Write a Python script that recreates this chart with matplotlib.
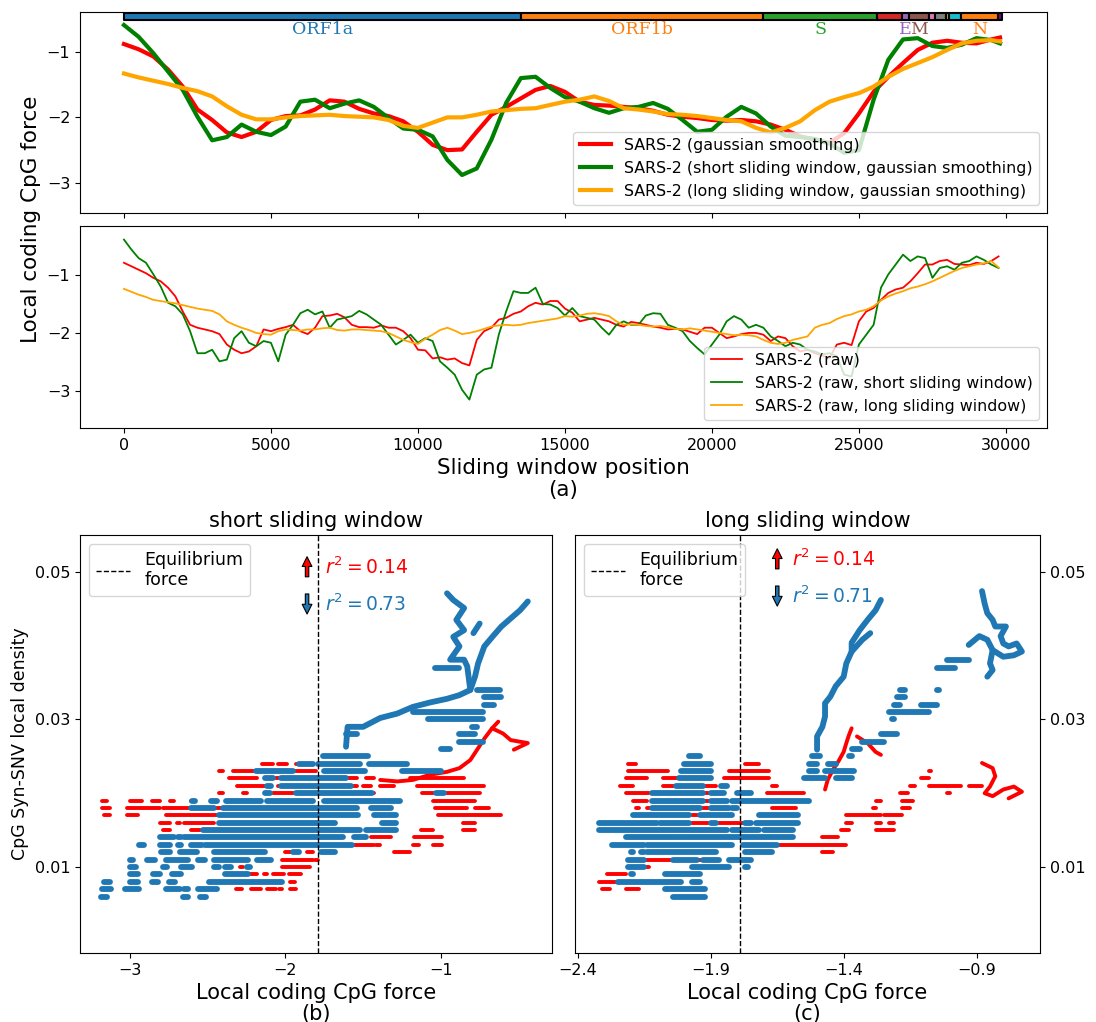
import numpy as np
import matplotlib.pyplot as plt

plt.rcParams['xtick.labelsize'] = 11.5
plt.rcParams['ytick.labelsize'] = 11.5
plt.rcParams['lines.solid_joinstyle'] = 'round'

# sliding window positions along the genome
smooth_pos = list(range(0, 30000, 500)) + [29800]
raw_pos = list(range(0, 30000, 250))

smooth_full = [-0.88, -0.96, -1.07, -1.27, -1.53, -1.88, -2.04, -2.23, -2.30, -2.22,
               -2.04, -1.98, -1.97, -1.88, -1.74, -1.76, -1.87, -1.94, -1.98, -2.06,
               -2.22, -2.42, -2.50, -2.49, -2.22, -1.96, -1.84, -1.71, -1.58, -1.52,
               -1.61, -1.76, -1.81, -1.82, -1.84, -1.86, -1.90, -1.96, -1.99, -2.01,
               -2.04, -2.05, -2.04, -2.06, -2.11, -2.19, -2.29, -2.34, -2.39, -2.24,
               -1.94, -1.61, -1.38, -1.17, -0.97, -0.86, -0.83, -0.86, -0.87, -0.81, -0.78]
smooth_short = [-0.59, -0.77, -1.02, -1.30, -1.58, -1.99, -2.35, -2.30, -2.11, -2.22,
                -2.27, -2.14, -1.76, -1.73, -1.86, -1.79, -1.74, -1.84, -2.01, -2.17,
                -2.19, -2.29, -2.65, -2.88, -2.78, -2.34, -1.78, -1.40, -1.38, -1.55,
                -1.69, -1.76, -1.86, -1.93, -1.86, -1.84, -1.78, -1.87, -2.04, -2.22,
                -2.19, -1.99, -1.84, -1.94, -2.14, -2.28, -2.30, -2.33, -2.40, -2.54,
                -2.50, -1.73, -1.12, -0.81, -0.79, -0.91, -0.94, -0.89, -0.79, -0.82, -0.87]
smooth_long = [-1.33, -1.39, -1.44, -1.49, -1.55, -1.60, -1.68, -1.83, -1.96, -2.03,
               -2.03, -2.00, -1.98, -1.97, -1.96, -1.98, -1.99, -2.00, -2.04, -2.13,
               -2.16, -2.08, -2.00, -2.00, -1.96, -1.91, -1.89, -1.87, -1.86, -1.81,
               -1.76, -1.73, -1.68, -1.75, -1.86, -1.88, -1.91, -1.95, -1.96, -1.98,
               -2.01, -2.04, -2.06, -2.16, -2.23, -2.16, -2.06, -1.89, -1.76, -1.69,
               -1.63, -1.53, -1.38, -1.26, -1.17, -1.08, -0.97, -0.87, -0.83, -0.82, -0.84]

raw_full = [-0.79, -0.85, -0.91, -0.97, -1.05, -1.11, -1.22, -1.37, -1.63, -1.86,
            -1.91, -1.94, -1.97, -2.02, -2.20, -2.29, -2.35, -2.32, -2.23, -1.94,
            -1.97, -1.93, -1.90, -1.86, -1.97, -2.02, -1.91, -1.71, -1.70, -1.67,
            -1.73, -1.86, -1.90, -1.90, -1.91, -1.87, -1.91, -1.91, -1.97, -2.09,
            -2.29, -2.30, -2.44, -2.42, -2.46, -2.44, -2.52, -2.56, -2.12, -1.97,
            -1.91, -1.77, -1.74, -1.67, -1.63, -1.54, -1.48, -1.51, -1.45, -1.45,
            -1.58, -1.65, -1.80, -1.77, -1.74, -1.77, -1.80, -1.86, -1.89, -1.81,
            -1.83, -1.86, -1.89, -1.91, -1.94, -1.93, -1.94, -1.98, -2.02, -1.91,
            -1.91, -2.00, -2.09, -2.06, -2.02, -2.00, -2.00, -2.03, -2.14, -2.06,
            -2.09, -2.23, -2.32, -2.29, -2.35, -2.39, -2.43, -2.20, -2.17, -2.21,
            -1.80, -1.63, -1.57, -1.43, -1.31, -1.25, -1.22, -1.11, -0.97, -0.82,
            -0.82, -0.76, -0.74, -0.81, -0.82, -0.83, -0.79, -0.81, -0.76, -0.68]
raw_short = [-0.39, -0.56, -0.71, -0.79, -0.99, -1.20, -1.48, -1.54, -1.68, -1.97,
             -2.35, -2.35, -2.29, -2.49, -2.46, -2.09, -1.97, -2.17, -2.23, -2.14,
             -2.17, -2.49, -2.03, -1.86, -1.66, -1.60, -1.68, -1.63, -1.91, -1.77,
             -1.74, -1.71, -1.62, -1.68, -1.77, -1.86, -2.03, -2.20, -2.12, -2.03,
             -2.17, -2.09, -2.14, -2.49, -2.60, -2.72, -2.98, -3.15, -2.72, -2.63,
             -2.60, -2.03, -1.63, -1.28, -1.31, -1.31, -1.22, -1.50, -1.51, -1.57,
             -1.70, -1.57, -1.71, -1.74, -1.77, -1.91, -2.03, -1.86, -1.80, -1.86,
             -1.86, -1.70, -1.66, -1.67, -1.86, -1.91, -1.97, -2.14, -2.26, -2.37,
             -2.20, -2.03, -1.80, -1.71, -1.77, -1.91, -1.86, -1.91, -2.06, -2.14,
             -2.23, -2.17, -2.20, -2.29, -2.32, -2.37, -2.35, -2.40, -2.72, -2.75,
             -2.20, -2.03, -1.86, -1.22, -0.99, -0.82, -0.65, -0.76, -0.68, -0.71,
             -1.05, -0.88, -0.85, -0.91, -0.79, -0.76, -0.68, -0.74, -0.82, -0.88]
raw_long = [-1.24, -1.29, -1.34, -1.38, -1.43, -1.45, -1.47, -1.49, -1.52, -1.55,
            -1.58, -1.60, -1.62, -1.68, -1.80, -1.86, -1.91, -1.95, -2.00, -2.02,
            -2.03, -1.97, -1.94, -1.95, -1.96, -1.94, -1.94, -1.92, -1.91, -1.95,
            -1.96, -1.94, -1.94, -1.95, -1.96, -1.97, -2.00, -2.06, -2.12, -2.16,
            -2.19, -2.10, -2.03, -1.95, -1.91, -1.96, -2.02, -2.00, -1.97, -1.93,
            -1.89, -1.87, -1.86, -1.87, -1.86, -1.83, -1.81, -1.79, -1.77, -1.75,
            -1.71, -1.72, -1.70, -1.67, -1.66, -1.68, -1.71, -1.80, -1.86, -1.85,
            -1.86, -1.88, -1.89, -1.88, -1.90, -1.93, -1.94, -1.92, -1.94, -1.96,
            -1.98, -2.00, -2.02, -2.04, -2.03, -2.04, -2.06, -2.12, -2.17, -2.19,
            -2.17, -2.12, -2.09, -2.06, -1.91, -1.86, -1.83, -1.76, -1.71, -1.68,
            -1.63, -1.60, -1.54, -1.44, -1.37, -1.32, -1.28, -1.23, -1.20, -1.16,
            -1.11, -1.05, -0.99, -0.93, -0.88, -0.85, -0.82, -0.80, -0.76, -0.87]

# genome annotation
gene_names = ["ORF1a", "ORF1b", "S", "ORF3a", "E", "M", "ORF6", "ORF7a", "ORF7b", "ORF8", "N", "ORF10"]
gene_start = [0, 13490, 21730, 25630, 26480, 26700, 27390, 27590, 27970, 28080, 28460, 29735]
gene_end = [13490, 21730, 25630, 26480, 26700, 27390, 27590, 27970, 28080, 28460, 29735, 29870]
gene_colors = ["#1f77b4", "#ff7f0e", "#2ca02c", "#d62728", "#9467bd", "#8c564b",
               "#e377c2", "#7f7f7f", "#bcbd22", "#17becf", "#ff7f0e", "purple"]
labelled_genes = ["ORF1a", "ORF1b", "S", "E", "M", "N"]

equilibrium_force = -1.79

# scatter rows: (density, force from, force to)
short_blue_rows = [
    (0.006, -3.19, -3.15), (0.006, -2.66, -2.63), (0.006, -2.55, -2.51),
    (0.007, -3.18, -3.12), (0.007, -3.03, -2.94), (0.007, -2.77, -2.68), (0.007, -2.65, -2.63), (0.007, -2.56, -2.44),
    (0.008, -3.17, -3.13), (0.008, -3.00, -2.95), (0.008, -2.86, -2.82), (0.008, -2.75, -2.71), (0.008, -2.49, -2.02),
    (0.009, -3.00, -2.95), (0.009, -2.85, -2.81), (0.009, -2.73, -2.67), (0.009, -2.39, -2.24),
    (0.010, -3.00, -2.96), (0.010, -2.79, -2.76), (0.010, -2.67, -2.60), (0.010, -2.46, -2.43), (0.010, -2.39, -2.35), (0.010, -2.25, -2.23),
    (0.011, -3.00, -2.98), (0.011, -2.89, -2.84), (0.011, -2.77, -2.63), (0.011, -2.56, -2.52), (0.011, -2.46, -2.24), (0.011, -2.18, -2.09),
    (0.012, -2.94, -2.94), (0.012, -2.80, -2.74), (0.012, -2.68, -2.57), (0.012, -2.46, -2.13), (0.012, -1.95, -1.91), (0.012, -1.77, -1.68),
    (0.013, -2.94, -2.91), (0.013, -2.81, -2.74), (0.013, -2.69, -2.67), (0.013, -2.61, -2.54), (0.013, -2.52, -1.57),
    (0.014, -2.81, -2.72), (0.014, -2.69, -2.67), (0.014, -2.65, -1.63), (0.014, -1.56, -1.48),
    (0.015, -2.53, -1.52), (0.015, -1.48, -1.29),
    (0.016, -2.43, -1.68), (0.016, -1.38, -1.29),
    (0.017, -2.43, -1.53), (0.017, -1.43, -1.29),
    (0.018, -2.61, -2.46), (0.018, -2.40, -1.54), (0.018, -1.45, -1.32),
    (0.019, -2.60, -2.58), (0.019, -2.48, -2.44), (0.019, -2.38, -2.16), (0.019, -2.12, -1.82), (0.019, -1.75, -1.26),
    (0.020, -2.13, -2.10), (0.020, -1.93, -1.44), (0.020, -1.03, -0.98),
    (0.021, -2.12, -2.09), (0.021, -2.03, -1.58),
    (0.022, -2.13, -2.08), (0.022, -2.03, -1.61),
    (0.023, -2.19, -1.95), (0.023, -1.75, -1.49), (0.023, -1.25, -1.00),
    (0.024, -1.98, -1.98), (0.024, -1.91, -1.82), (0.024, -1.79, -1.52), (0.024, -1.46, -1.22), (0.024, -1.03, -1.03),
    (0.025, -1.76, -1.47),
    (0.026, -1.61, -1.61), (0.026, -1.00, -0.94),
    (0.027, -1.61, -1.61), (0.027, -0.88, -0.73),
    (0.028, -1.61, -1.54), (0.028, -0.88, -0.78),
    (0.029, -0.80, -0.77),
    (0.030, -1.08, -0.73),
    (0.031, -1.18, -0.73),
    (0.032, -0.72, -0.66),
    (0.033, -0.72, -0.61),
    (0.034, -0.77, -0.62),
    (0.037, -1.04, -0.88),
]
short_red_rows = [
    (0.007, -2.32, -2.28), (0.007, -2.22, -2.16), (0.007, -2.12, -2.06), (0.007, -2.04, -2.02), (0.007, -1.97, -1.93),
    (0.008, -1.97, -1.94),
    (0.009, -2.38, -2.18), (0.009, -2.14, -2.12), (0.009, -2.08, -2.01), (0.009, -1.98, -1.90), (0.009, -1.84, -1.84),
    (0.010, -2.29, -2.27), (0.010, -2.02, -1.84),
    (0.011, -2.02, -1.82), (0.011, -1.81, -1.79),
    (0.012, -2.00, -1.95), (0.012, -1.86, -1.82), (0.012, -1.63, -1.63), (0.012, -1.30, -1.20),
    (0.013, -2.94, -2.94), (0.013, -1.57, -1.43), (0.013, -1.42, -1.39), (0.013, -1.30, -1.30), (0.013, -1.18, -1.14), (0.013, -1.05, -0.99),
    (0.014, -2.92, -2.92), (0.014, -2.78, -2.78), (0.014, -1.45, -1.32), (0.014, -1.17, -0.99),
    (0.015, -2.79, -2.74), (0.015, -2.61, -2.55), (0.015, -1.13, -1.05), (0.015, -0.86, -0.78),
    (0.016, -2.81, -2.74), (0.016, -2.70, -2.68), (0.016, -2.65, -2.46), (0.016, -1.03, -1.03), (0.016, -0.86, -0.78),
    (0.017, -3.17, -3.13), (0.017, -3.02, -2.95), (0.017, -2.77, -2.44), (0.017, -1.02, -0.61),
    (0.018, -3.18, -3.13), (0.018, -3.02, -2.81), (0.018, -2.79, -2.61), (0.018, -2.46, -2.40), (0.018, -1.84, -1.84), (0.018, -1.04, -0.83), (0.018, -0.78, -0.69),
    (0.019, -3.18, -3.15), (0.019, -3.00, -2.92), (0.019, -2.86, -2.81), (0.019, -2.74, -2.72), (0.019, -2.61, -2.59), (0.019, -1.05, -0.78),
    (0.020, -2.43, -2.40), (0.020, -2.27, -2.25), (0.020, -2.08, -1.54), (0.020, -1.47, -1.43), (0.020, -1.12, -0.75),
    (0.021, -2.31, -2.12), (0.021, -2.05, -1.54), (0.021, -1.50, -1.45), (0.021, -1.39, -1.30), (0.021, -1.15, -0.72),
    (0.022, -2.36, -2.18), (0.022, -2.06, -1.54), (0.022, -1.48, -1.43), (0.022, -1.20, -0.85),
    (0.023, -2.43, -2.40), (0.023, -2.34, -2.20), (0.023, -1.95, -1.80), (0.023, -1.75, -1.73), (0.023, -1.50, -1.50),
    (0.024, -2.24, -2.24), (0.024, -2.15, -2.08), (0.024, -2.05, -1.99), (0.024, -1.93, -1.82), (0.024, -1.71, -1.58),
]
short_blue_trails = [
    ([-1.61, -1.60, -1.50, -1.39, -1.28, -1.18, -1.07, -0.96, -0.88, -0.81, -0.78, -0.76, -0.72, -0.66, -0.61, -0.55, -0.49, -0.44],
     [0.0263, 0.0290, 0.0290, 0.0302, 0.0308, 0.0317, 0.0323, 0.0328, 0.0333, 0.0340, 0.0358, 0.0376, 0.0399, 0.0414, 0.0426, 0.0437, 0.0448, 0.0460]),
    ([-0.81, -0.83, -0.85, -0.94, -0.88, -0.92, -0.85, -0.90, -0.85, -0.92, -0.96],
     [0.0340, 0.0372, 0.0381, 0.0381, 0.0399, 0.0412, 0.0421, 0.0435, 0.0451, 0.0462, 0.0471]),
    ([-0.79, -0.75], [0.0417, 0.0430]),
]
short_red_trails = [
    ([-1.39, -1.28, -1.18, -1.07, -0.96, -0.88, -0.81, -0.76, -0.72, -0.67, -0.63],
     [0.0218, 0.0216, 0.0218, 0.0225, 0.0229, 0.0234, 0.0245, 0.0261, 0.0274, 0.0288, 0.0297]),
    ([-0.67, -0.60, -0.55, -0.44, -0.53], [0.0288, 0.0281, 0.0272, 0.0268, 0.0259]),
]

long_blue_rows = [
    (0.006, -2.04, -1.92),
    (0.007, -2.07, -1.92),
    (0.008, -2.25, -2.01), (0.008, -1.97, -1.94),
    (0.009, -2.20, -2.19), (0.009, -2.07, -1.94),
    (0.010, -2.21, -2.15), (0.010, -1.97, -1.83), (0.010, -1.77, -1.76),
    (0.011, -2.21, -2.15), (0.011, -2.04, -1.95), (0.011, -1.93, -1.87), (0.011, -1.83, -1.75),
    (0.012, -2.20, -2.19), (0.012, -2.16, -2.15), (0.012, -2.14, -1.88), (0.012, -1.77, -1.67),
    (0.013, -2.27, -2.15), (0.013, -2.14, -1.82), (0.013, -1.78, -1.65),
    (0.014, -2.24, -2.24), (0.014, -2.22, -1.59),
    (0.015, -2.32, -2.02), (0.015, -2.01, -1.84), (0.015, -1.82, -1.72), (0.015, -1.70, -1.59),
    (0.016, -2.32, -2.10), (0.016, -2.09, -1.98), (0.016, -1.90, -1.88), (0.016, -1.77, -1.75), (0.016, -1.73, -1.57),
    (0.017, -2.19, -1.98), (0.017, -1.94, -1.82), (0.017, -1.72, -1.57),
    (0.018, -2.12, -1.94), (0.018, -1.90, -1.83), (0.018, -1.82, -1.80),
    (0.019, -2.12, -1.93), (0.019, -1.90, -1.84), (0.019, -1.82, -1.53),
    (0.020, -2.12, -1.93), (0.020, -1.90, -1.85), (0.020, -1.80, -1.75),
    (0.021, -2.03, -1.93), (0.021, -1.86, -1.84), (0.021, -1.77, -1.77),
    (0.022, -2.02, -1.90), (0.022, -1.55, -1.47), (0.022, -1.43, -1.37),
    (0.023, -2.01, -1.90), (0.023, -1.53, -1.50), (0.023, -1.47, -1.36),
    (0.024, -2.00, -1.90), (0.024, -1.53, -1.50), (0.024, -1.46, -1.43),
    (0.025, -1.98, -1.94), (0.025, -1.52, -1.49), (0.025, -1.38, -1.37),
    (0.026, -1.37, -1.34),
    (0.027, -1.33, -1.25),
    (0.028, -1.26, -1.20),
    (0.030, -1.22, -1.21),
    (0.031, -1.23, -1.19), (0.031, -1.18, -1.08),
    (0.032, -1.21, -1.19), (0.032, -1.11, -1.05),
    (0.033, -1.20, -1.17), (0.033, -1.05, -1.05),
    (0.034, -1.19, -1.17), (0.034, -1.05, -1.04),
    (0.035, -1.05, -1.05),
    (0.036, -1.05, -1.05),
    (0.037, -1.05, -0.98),
    (0.038, -1.01, -0.93),
]
long_red_rows = [
    (0.007, -2.31, -2.28), (0.007, -2.22, -2.17),
    (0.008, -2.32, -2.25),
    (0.009, -2.29, -2.22),
    (0.010, -2.15, -2.13),
    (0.011, -2.15, -2.05), (0.011, -1.95, -1.93),
    (0.012, -1.48, -1.44),
    (0.013, -1.65, -1.39),
    (0.014, -1.48, -1.42),
    (0.015, -2.02, -2.00), (0.015, -1.41, -1.38), (0.015, -1.28, -1.21),
    (0.016, -2.10, -2.09), (0.016, -1.98, -1.90), (0.016, -1.88, -1.78), (0.016, -1.39, -1.37), (0.016, -1.28, -1.26), (0.016, -1.23, -1.21),
    (0.017, -1.97, -1.94), (0.017, -1.72, -1.68), (0.017, -1.39, -1.26), (0.017, -1.25, -1.18),
    (0.018, -2.18, -2.17), (0.018, -2.14, -2.12), (0.018, -1.94, -1.90), (0.018, -1.67, -1.58), (0.018, -1.29, -1.28), (0.018, -1.18, -1.15),
    (0.019, -2.19, -2.14), (0.019, -1.94, -1.87), (0.019, -1.70, -1.56), (0.019, -1.28, -1.26), (0.019, -1.18, -1.14),
    (0.020, -2.22, -2.13), (0.020, -1.94, -1.87), (0.020, -1.69, -1.55), (0.020, -1.19, -1.16), (0.020, -1.01, -1.00),
    (0.021, -2.24, -2.19), (0.021, -2.08, -1.99), (0.021, -1.95, -1.88), (0.021, -1.67, -1.65), (0.021, -1.15, -1.13), (0.021, -1.08, -0.96), (0.021, -0.93, -0.88),
    (0.022, -2.22, -2.14), (0.022, -2.08, -2.02), (0.022, -1.85, -1.68), (0.022, -1.11, -1.08),
    (0.023, -2.21, -2.06), (0.023, -1.83, -1.68), (0.023, -1.08, -1.07),
    (0.024, -2.21, -2.18), (0.024, -1.82, -1.82), (0.024, -1.77, -1.72),
]
long_blue_trails = [
    ([-1.50, -1.50, -1.48, -1.47, -1.47, -1.45, -1.43, -1.40, -1.39, -1.37, -1.37, -1.34, -1.31, -1.28, -1.26],
     [0.0259, 0.0277, 0.0290, 0.0304, 0.0322, 0.0331, 0.0345, 0.0358, 0.0376, 0.0392, 0.0404, 0.0421, 0.0435, 0.0448, 0.0462]),
    ([-1.37, -1.33, -1.30], [0.0392, 0.0408, 0.0417]),
    ([-0.86, -0.84, -0.85, -0.84, -0.80, -0.76, -0.73, -0.75, -0.78, -0.80, -0.81, -0.79, -0.83, -0.84, -0.86, -0.87, -0.88],
     [0.0358, 0.0367, 0.0376, 0.0394, 0.0385, 0.0387, 0.0392, 0.0403, 0.0399, 0.0403, 0.0413, 0.0426, 0.0426, 0.0435, 0.0444, 0.0457, 0.0474]),
    ([-0.93, -0.89, -0.86, -0.84], [0.0401, 0.0413, 0.0408, 0.0394]),
]
long_red_trails = [
    ([-1.47, -1.46, -1.44, -1.42, -1.40, -1.39, -1.38, -1.37],
     [0.0205, 0.0218, 0.0232, 0.0243, 0.0256, 0.0268, 0.0279, 0.0288]),
    ([-1.35, -1.31, -1.28, -1.26], [0.0277, 0.0268, 0.0256, 0.0252]),
    ([-0.88, -0.84, -0.83, -0.85, -0.87, -0.84, -0.80, -0.76, -0.73, -0.78],
     [0.0241, 0.0234, 0.0223, 0.0209, 0.0200, 0.0196, 0.0205, 0.0209, 0.0202, 0.0193]),
]

r2_short = (0.14, 0.73)
r2_long = (0.14, 0.71)

BLUE = "#1f77b4"


def draw_rows(ax, rows, color, size):
    ys = [r[0] for r in rows]
    lc = ax.hlines(ys, [r[1] for r in rows], [r[2] for r in rows], colors=color, linewidth=size)
    lc.set_capstyle('round')


def draw_trails(ax, trails, color, size):
    for xs, ys in trails:
        ax.plot(xs, ys, color=color, lw=size, solid_capstyle='round', solid_joinstyle='round')


def draw_r2(ax, x_arrow, x_text, y_up, y_down, values):
    h = 0.048
    ax.annotate('', xy=(x_arrow, y_up + h / 2), xytext=(x_arrow, y_up - h / 2), xycoords='axes fraction',
                arrowprops=dict(facecolor='red', edgecolor='black', width=2.5, headwidth=7, headlength=7, lw=0.8))
    ax.annotate('', xy=(x_arrow, y_down - h / 2), xytext=(x_arrow, y_down + h / 2), xycoords='axes fraction',
                arrowprops=dict(facecolor=BLUE, edgecolor='black', width=2.5, headwidth=7, headlength=7, lw=0.8))
    ax.text(x_text, y_up, f'$r^2 = {values[0]:.2f}$', color='red', fontsize=13.5, va='center', transform=ax.transAxes)
    ax.text(x_text, y_down, f'$r^2 = {values[1]:.2f}$', color=BLUE, fontsize=13.5, va='center', transform=ax.transAxes)


fig = plt.figure(figsize=(10.96, 10.22), dpi=100)
ax_top = fig.add_axes([0.0730, 0.7916, 0.8823, 0.1967])
ax_raw = fig.add_axes([0.0730, 0.5812, 0.8823, 0.1977], sharex=ax_top)
ax_short = fig.add_axes([0.0730, 0.0675, 0.4307, 0.4090])
ax_long = fig.add_axes([0.5246, 0.0675, 0.4243, 0.4090], sharey=ax_short)

# (a) smoothed profiles with the genome map on top
ax_top.plot(smooth_pos, smooth_full, color='red', lw=3, label='SARS-2 (gaussian smoothing)')
ax_top.plot(smooth_pos, smooth_short, color='green', lw=3, label='SARS-2 (short sliding window, gaussian smoothing)')
ax_top.plot(smooth_pos, smooth_long, color='orange', lw=3, label='SARS-2 (long sliding window, gaussian smoothing)')
for name, s, e, c in zip(gene_names, gene_start, gene_end, gene_colors):
    ax_top.broken_barh([(s, e - s)], (-0.52, 0.11), facecolors=c, edgecolor='black', linewidth=1.5)
    if name in labelled_genes:
        ax_top.text((s + e) / 2, -0.66, name, color=c, family='DejaVu Serif', fontsize=12.5,
                    ha='center', va='center')
ax_top.set_ylim(-3.46, -0.39)
ax_top.set_yticks([-3, -2, -1])
ax_top.tick_params(labelbottom=False)
ax_top.legend(loc='lower right', fontsize=11.4)

ax_raw.plot(raw_pos, raw_full, color='red', lw=1.3, label='SARS-2 (raw)')
ax_raw.plot(raw_pos, raw_short, color='green', lw=1.3, label='SARS-2 (raw, short sliding window)')
ax_raw.plot(raw_pos, raw_long, color='orange', lw=1.3, label='SARS-2 (raw, long sliding window)')
ax_raw.set_ylim(-3.64, -0.155)
ax_raw.set_yticks([-3, -2, -1])
ax_raw.set_xlim(-1495, 31398)
ax_raw.set_xticks([0, 5000, 10000, 15000, 20000, 25000, 30000])
ax_raw.legend(loc='lower right', fontsize=11.4)
ax_raw.set_xlabel('Sliding window position\n(a)', fontsize=15.5, linespacing=1.1)
fig.text(0.028, 0.785, 'Local coding CpG force', rotation=90, fontsize=15.5, ha='center', va='center')

# (b) short sliding window
draw_rows(ax_short, short_red_rows, 'red', 2.8)
draw_trails(ax_short, short_red_trails, 'red', 2.8)
draw_rows(ax_short, short_blue_rows, BLUE, 4.2)
draw_trails(ax_short, short_blue_trails, BLUE, 4.2)
ax_short.axvline(equilibrium_force, color='black', ls='--', lw=1, label='Equilibrium\nforce')
ax_short.legend(loc='upper left', fontsize=12.5)
ax_short.set_xlim(-3.322, -0.284)
ax_short.set_xticks([-3, -2, -1])
ax_short.set_ylim(-0.00166, 0.0550)
ax_short.set_yticks([0.01, 0.03, 0.05])
ax_short.set_title('short sliding window', fontsize=15)
ax_short.set_xlabel('Local coding CpG force\n(b)', fontsize=15, linespacing=1.05)
ax_short.set_ylabel('CpG Syn-SNV local density', fontsize=12.5)
draw_r2(ax_short, 0.481, 0.519, 0.924, 0.835, r2_short)

# (c) long sliding window
draw_rows(ax_long, long_red_rows, 'red', 2.8)
draw_trails(ax_long, long_red_trails, 'red', 2.8)
draw_rows(ax_long, long_blue_rows, BLUE, 4.2)
draw_trails(ax_long, long_blue_trails, BLUE, 4.2)
ax_long.axvline(equilibrium_force, color='black', ls='--', lw=1, label='Equilibrium\nforce')
ax_long.legend(loc='upper left', fontsize=12.5)
ax_long.set_xlim(-2.41, -0.662)
ax_long.set_xticks([-2.4, -1.9, -1.4, -0.9])
ax_long.yaxis.tick_right()
ax_long.set_title('long sliding window', fontsize=15)
ax_long.set_xlabel('Local coding CpG force\n(c)', fontsize=15, linespacing=1.05)
draw_r2(ax_long, 0.435, 0.466, 0.943, 0.854, r2_long)

fig.savefig('out.png', dpi=100)
